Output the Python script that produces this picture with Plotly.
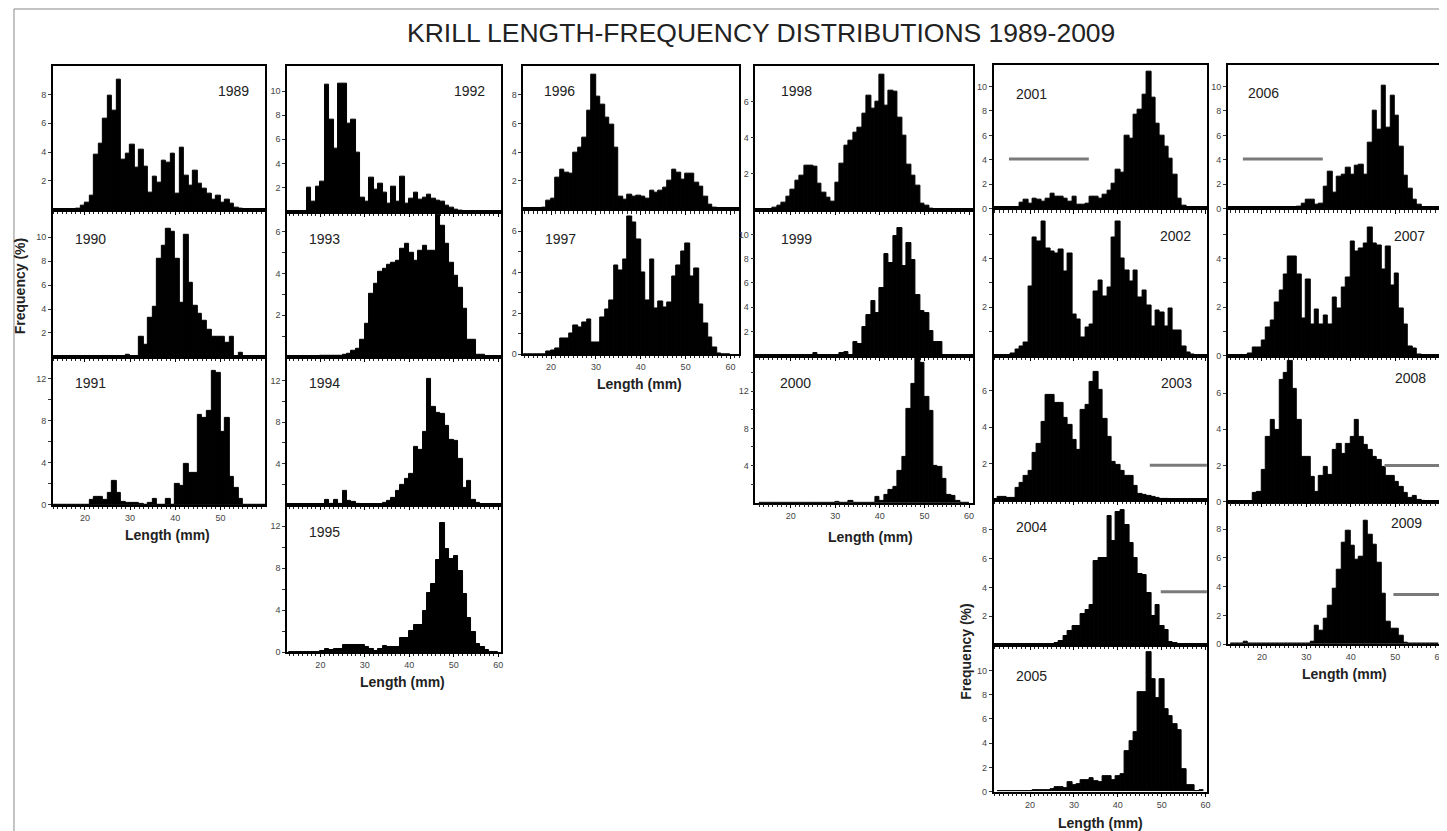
import plotly.graph_objects as go

W, H = 1447, 831

# ---------------- data (frequency %, 1-mm length bins 13..59 mm) ----------------
LENGTH_MM = list(range(13, 60))

freq_1989 = [0, 0, 0, 0, 0, 0.1, 0.3, 0.5, 1.0, 3.8, 4.6, 6.3, 7.9, 6.9, 9.0, 3.5, 3.9,
             4.5, 2.9, 4.2, 3.0, 1.2, 2.3, 1.9, 3.4, 3.3, 3.9, 1.1, 4.3, 2.4, 1.7, 2.7,
             1.8, 1.5, 1.1, 0.7, 1.0, 0.5, 0.7, 0.4, 0.15, 0.05, 0, 0, 0, 0, 0]
freq_1990 = [0, 0, 0, 0, 0, 0, 0, 0, 0, 0, 0, 0, 0, 0, 0, 0, 0.2,
             0, 0, 1.7, 1.0, 3.3, 4.2, 8.2, 9.3, 10.7, 10.5, 8.2, 4.5, 10.2, 6.2, 4.3,
             3.6, 3.0, 2.3, 1.7, 1.7, 1.7, 1.2, 1.7, 0, 0.35, 0, 0, 0, 0, 0]
freq_1991 = [0, 0, 0, 0, 0, 0, 0, 0, 0.5, 0.8, 0.8, 0.5, 1.2, 2.3, 1.2, 0.3, 0.2,
             0.2, 0.2, 0.1, 0, 0.2, 0.6, 0, 0, 0.6, 0, 2.0, 1.8, 3.9, 3.1, 3.1,
             8.6, 8.3, 9.0, 12.8, 12.6, 7.0, 8.3, 2.7, 1.6, 0.6, 0, 0, 0, 0, 0]
freq_1992 = [0, 0, 0, 0, 2.0, 0.8, 2.1, 2.5, 10.5, 7.6, 5.2, 10.6, 10.6, 7.3, 7.6, 4.9, 1.2,
             0.8, 2.8, 1.8, 2.3, 1.6, 0.7, 2.1, 0.8, 2.9, 0.7, 1.1, 1.6, 1.0, 1.2, 1.4,
             1.1, 0.9, 0.8, 0.5, 0.3, 0.15, 0.1, 0.05, 0, 0, 0, 0, 0, 0, 0]
freq_1993 = [0, 0, 0, 0, 0, 0, 0, 0.05, 0.05, 0.05, 0.05, 0.05, 0.1, 0.15, 0.3, 0.4, 0.8,
             1.6, 3.0, 3.5, 4.1, 4.2, 4.4, 4.5, 4.6, 5.2, 5.4, 5.0, 4.6, 5.1, 5.3, 5.1,
             5.1, 6.8, 6.3, 5.4, 4.5, 3.9, 3.3, 2.3, 0.8, 0.8, 0.1, 0.1, 0, 0, 0]
freq_1994 = [0, 0, 0, 0, 0, 0, 0, 0, 0.5, 0.1, 0.5, 0.1, 1.4, 0.4, 0.3, 0.15, 0.05,
             0.05, 0.05, 0.05, 0.05, 0.2, 0.4, 0.7, 1.4, 1.9, 2.5, 3.0, 5.6, 5.3, 7.1, 12.2,
             9.5, 8.9, 8.8, 7.6, 6.3, 6.2, 4.5, 1.7, 2.3, 0.5, 0.2, 0.05, 0, 0, 0]
freq_1995 = [0, 0, 0, 0, 0, 0, 0, 0.15, 0.3, 0.2, 0.3, 0.3, 0.7, 0.7, 0.7, 0.7, 0.7,
             0.5, 0.3, 0.15, 0.3, 0.6, 0.5, 0.45, 0.45, 1.3, 1.3, 2.0, 2.6, 2.6, 3.9, 5.6,
             6.5, 8.8, 12.3, 9.8, 8.9, 9.1, 7.7, 5.5, 3.2, 1.9, 0.8, 0.5, 0.2, 0, 0]
freq_1996 = [0, 0, 0, 0, 0, 0.1, 0.65, 0.75, 2.2, 2.8, 2.6, 2.5, 4.0, 4.3, 5.0, 6.9, 9.4,
             7.9, 7.3, 6.4, 5.9, 4.3, 0.9, 0.7, 1.05, 0.9, 1.0, 0.9, 0.75, 1.35, 1.2, 1.35,
             1.5, 2.0, 2.8, 2.6, 2.1, 2.5, 2.5, 1.9, 1.6, 0.9, 0.35, 0.15, 0.05, 0, 0]
freq_1997 = [0, 0, 0, 0, 0, 0, 0.15, 0.2, 0.3, 0.75, 0.75, 1.0, 1.4, 1.3, 1.55, 1.7, 0.55,
             0.55, 1.8, 2.2, 2.6, 4.3, 4.1, 4.6, 6.7, 6.4, 5.6, 4.0, 2.6, 4.6, 2.25, 2.55,
             2.3, 2.5, 3.8, 4.3, 5.0, 5.4, 3.8, 4.2, 2.4, 1.5, 0.8, 0.35, 0.05, 0, 0]
freq_1998 = [0, 0, 0.05, 0.15, 0.25, 0.4, 0.75, 1.15, 1.65, 1.9, 2.45, 2.45, 2.4, 1.45, 0.95, 0.7, 0.45,
             1.5, 2.55, 3.55, 3.85, 4.25, 4.55, 5.3, 6.3, 5.6, 6.0, 7.45, 5.75, 6.6, 6.55, 5.1,
             4.1, 2.5, 1.9, 1.35, 0.35, 0.25, 0.1, 0, 0, 0, 0, 0, 0, 0, 0]
freq_1999 = [0, 0, 0, 0, 0, 0, 0, 0, 0, 0, 0, 0, 0.2, 0, 0, 0, 0,
             0, 0.2, 0.3, 0.1, 1.15, 1.0, 2.4, 3.35, 4.5, 3.55, 5.6, 8.4, 7.6, 9.9, 10.5,
             7.4, 9.3, 7.9, 5.0, 3.7, 3.5, 2.05, 1.1, 1.1, 0, 0, 0, 0, 0, 0]
freq_2000 = [0, 0, 0, 0, 0, 0, 0, 0, 0, 0, 0, 0, 0, 0, 0, 0, 0,
             0.1, 0, 0, 0.15, 0, 0, 0, 0, 0, 0.65, 0.2, 0.8, 1.35, 1.7, 3.4,
             4.9, 10.1, 12.8, 15.7, 15.1, 11.4, 9.9, 4.0, 3.9, 2.6, 0.8, 0.7, 0.2, 0, 0]
freq_2001 = [0, 0, 0, 0, 0.1, 0.5, 0.7, 0.4, 0.8, 0.7, 0.55, 0.8, 1.2, 0.95, 0.95, 0.8, 0.6,
             0.95, 0.35, 0.35, 0.4, 0.95, 0.95, 0.8, 1.1, 1.5, 2.0, 3.2, 2.9, 6.0, 5.7, 7.7,
             8.1, 9.3, 11.2, 9.1, 7.0, 6.0, 5.1, 4.05, 2.75, 0.8, 0.2, 0, 0, 0, 0]
freq_2002 = [0, 0, 0, 0.1, 0.25, 0.4, 0.55, 2.85, 4.85, 4.7, 5.5, 4.4, 4.3, 4.2, 4.35, 3.45, 4.2,
             1.7, 1.5, 0.75, 1.15, 1.3, 2.65, 3.1, 2.45, 2.8, 4.85, 5.5, 4.0, 3.5, 3.05, 3.5,
             2.4, 2.7, 2.05, 1.2, 1.85, 1.8, 1.2, 1.95, 1.05, 1.05, 0.4, 0.15, 0.05, 0, 0]
freq_2003 = [0.15, 0.15, 0.1, 0.1, 0.65, 0.95, 1.3, 1.6, 2.6, 3.1, 4.3, 5.75, 5.75, 5.3, 5.3, 4.5, 4.1,
             3.3, 2.75, 4.95, 5.2, 6.5, 7.0, 6.05, 4.45, 3.45, 2.1, 1.95, 1.6, 1.3, 1.3, 0.75,
             0.35, 0.3, 0.2, 0.15, 0.1, 0.05, 0.05, 0, 0, 0, 0, 0, 0, 0, 0]
freq_2004 = [0, 0, 0, 0, 0, 0, 0, 0, 0, 0, 0, 0, 0.05, 0.15, 0.3, 0.6, 1.0,
             1.35, 1.35, 2.15, 2.45, 2.8, 5.8, 6.05, 6.0, 8.95, 7.2, 9.2, 9.35, 8.3, 7.1, 6.0,
             4.9, 4.85, 3.6, 2.0, 2.75, 1.35, 1.05, 0.25, 0.15, 0.05, 0, 0, 0, 0, 0]
freq_2005 = [0.05, 0.05, 0.05, 0.05, 0.05, 0.05, 0.05, 0.05, 0.1, 0.1, 0.1, 0.15, 0.2, 0.35, 0.4, 0.25, 0.75,
             0.55, 0.6, 0.95, 0.95, 1.1, 0.9, 0.75, 1.25, 1.25, 0.95, 1.3, 1.4, 3.35, 4.15, 4.95,
             8.2, 8.2, 11.5, 9.3, 7.7, 9.3, 6.85, 6.25, 5.55, 5.05, 1.85, 0.55, 0.5, 0.05, 0.15]
freq_2006 = [0, 0, 0, 0, 0, 0, 0, 0, 0, 0, 0, 0.05, 0.05, 0.1, 0.1, 0.15, 0.4,
             0.7, 0.75, 0.35, 0.4, 1.8, 3.05, 1.3, 2.6, 2.75, 3.35, 2.75, 3.5, 3.6, 2.75, 5.4,
             8.0, 6.45, 10.1, 6.6, 9.25, 7.65, 5.05, 2.7, 1.6, 0.75, 0.3, 0.1, 0.05, 0, 0]
freq_2007 = [0, 0, 0, 0, 0.1, 0.35, 0.35, 0.65, 1.15, 1.45, 2.2, 2.7, 3.35, 4.1, 4.1, 3.35, 1.55,
             3.15, 1.3, 1.9, 1.3, 1.65, 1.3, 2.4, 1.95, 2.8, 3.2, 4.7, 4.3, 4.4, 4.6, 5.25,
             4.6, 4.55, 3.55, 4.5, 2.9, 3.4, 1.95, 1.3, 0.4, 0.3, 0.05, 0, 0, 0, 0]
freq_2008 = [0, 0, 0, 0, 0, 0.5, 0.55, 1.75, 3.6, 4.5, 3.95, 6.75, 7.1, 7.75, 6.25, 4.5, 2.5,
             2.5, 1.35, 0.55, 1.45, 1.9, 1.5, 2.85, 3.2, 2.65, 3.2, 3.6, 4.5, 3.6, 3.15, 2.85,
             2.5, 2.3, 1.9, 1.4, 1.4, 1.1, 0.8, 0.5, 0.2, 0.3, 0.1, 0.05, 0, 0, 0]
freq_2009 = [0, 0, 0.05, 0.15, 0.05, 0.05, 0.05, 0.05, 0.05, 0.05, 0.05, 0.05, 0.05, 0, 0, 0.05, 0.05,
             0.05, 0.15, 1.3, 0.9, 1.8, 2.7, 3.85, 5.2, 7.05, 7.85, 6.85, 5.9, 6.1, 8.55, 7.6,
             6.9, 5.65, 3.5, 1.55, 1.05, 1.05, 0.6, 0.1, 0, 0, 0, 0, 0, 0, 0]

FREQ = {1989: freq_1989, 1990: freq_1990, 1991: freq_1991, 1992: freq_1992, 1993: freq_1993,
        1994: freq_1994, 1995: freq_1995, 1996: freq_1996, 1997: freq_1997, 1998: freq_1998,
        1999: freq_1999, 2000: freq_2000, 2001: freq_2001, 2002: freq_2002, 2003: freq_2003,
        2004: freq_2004, 2005: freq_2005, 2006: freq_2006, 2007: freq_2007, 2008: freq_2008,
        2009: freq_2009}

# grey reference bars drawn in some panels
REF_YEAR = [2001, 2003, 2004, 2006, 2008, 2009]
REF_X0 = [15.2, 47.3, 49.8, 15.7, 47.6, 49.6]
REF_X1 = [33.4, 60.5, 60.5, 33.7, 60.3, 60.3]
REF_Y = [4.05, 1.9, 3.7, 4.05, 2.0, 3.45]

TITLE = "KRILL LENGTH-FREQUENCY DISTRIBUTIONS 1989-2009"
X_TITLE = "Length (mm)"
Y_TITLE = "Frequency (%)"


def lab(vals, shown):
    return [str(v) if v in shown else "" for v in vals]


# y axis: (max, tick values, labelled ticks)
Y_AXES = {
    1989: (10.0, [2, 4, 6, 8], [2, 4, 6, 8]),
    1990: (12.3, [2, 4, 6, 8, 10], [2, 4, 6, 8, 10]),
    1991: (14.1, [0, 2, 4, 6, 8, 10, 12], [0, 4, 8, 12]),
    1992: (12.1, [2, 4, 6, 8, 10], [2, 4, 6, 8, 10]),
    1993: (6.95, [1, 2, 3, 4, 5, 6], [2, 4, 6]),
    1994: (14.3, [2, 4, 6, 8, 10, 12], [4, 8, 12]),
    1995: (14.0, [0, 2, 4, 6, 8, 10, 12], [0, 4, 8, 12]),
    1996: (10.05, [2, 4, 6, 8], [2, 4, 6, 8]),
    1997: (7.05, [0, 1, 2, 3, 4, 5, 6], [0, 2, 4, 6]),
    1998: (7.97, [2, 4, 6], [2, 4, 6]),
    1999: (12.0, [2, 4, 6, 8, 10], [2, 4, 6, 8, 10]),
    2000: (15.8, [2, 4, 6, 8, 10, 12, 14], [4, 8, 12]),
    2001: (11.8, [0, 2, 4, 6, 8, 10], [0, 2, 4, 6, 8, 10]),
    2002: (6.05, [1, 2, 3, 4, 5], [2, 4]),
    2003: (7.9, [2, 4, 6], [2, 4, 6]),
    2004: (10.05, [2, 4, 6, 8], [2, 4, 6, 8]),
    2005: (12.1, [0, 2, 4, 6, 8, 10], [0, 2, 4, 6, 8, 10]),
    2006: (11.8, [0, 2, 4, 6, 8, 10], [0, 2, 4, 6, 8, 10]),
    2007: (6.05, [0, 1, 2, 3, 4, 5], [0, 2, 4]),
    2008: (8.05, [0, 2, 4, 6], [0, 2, 4, 6]),
    2009: (9.9, [0, 2, 4, 6, 8], [0, 2, 4, 6, 8]),
}

# ---------------- layout (pixel geometry) ----------------
COLUMNS = [
    dict(px=(45, 258), xr=(12.9, 59.9), off=0.0, xlab=(160, 530),
         rows=[(1989, 58, 203), (1990, 203, 351), (1991, 351, 500)]),
    dict(px=(280, 495), xr=(12.5, 60.7), off=0.0, xlab=(396, 678),
         rows=[(1992, 58, 205), (1993, 205, 351), (1994, 351, 500), (1995, 500, 648)]),
    dict(px=(517, 734), xr=(13.8, 62.0), off=0.0, xlab=(634, 378),
         rows=[(1996, 58, 202.7), (1997, 202.7, 348.3)]),
    dict(px=(750, 968), xr=(12.1, 60.8), off=0.0, xlab=(865, 532),
         rows=[(1998, 58, 203.3), (1999, 203.3, 350), (2000, 350, 497.7)]),
    dict(px=(989, 1203), xr=(11.7, 60.3), off=-0.4, xlab=(1096, 820),
         rows=[(2001, 57, 201.7), (2002, 201.7, 350), (2003, 350, 495), (2004, 495, 641),
               (2005, 641, 788.3)]),
    dict(px=(1224, 1437), xr=(12.3, 60.1), off=-0.1, xlab=(1341, 670),
         rows=[(2006, 57, 201.7), (2007, 201.7, 350), (2008, 350, 496.7), (2009, 496.7, 640)]),
]

YEAR_POS = {1989: (226, 83), 1990: (83, 232), 1991: (83, 377), 1992: (463, 84), 1993: (318, 232),
            1994: (318, 377), 1995: (318, 527), 1996: (553, 84), 1997: (554, 232), 1998: (791, 83),
            1999: (791, 232), 2000: (790, 377), 2001: (1027, 87), 2002: (1172, 229), 2003: (1173, 377),
            2004: (1027, 522), 2005: (1027, 672), 2006: (1260, 86), 2007: (1406, 229), 2008: (1407, 372),
            2009: (1403, 518)}

Y_TITLE_POS = [(12, 280), (961, 648)]

FONT = "Liberation Sans, Arial, Helvetica, sans-serif"


def fx(p):
    return p / W


def fy(p):
    return 1 - p / H


fig = go.Figure()
layout = {}
annotations = []
shapes = []
n = 0
for col in COLUMNS:
    nrows = len(col["rows"])
    for r, (year, top, bot) in enumerate(col["rows"]):
        n += 1
        xa, ya = f"x{n}", f"y{n}"
        fig.add_trace(go.Bar(
            x=LENGTH_MM, y=FREQ[year], width=1.0, offset=col["off"],
            marker=dict(color="black", line=dict(color="black", width=1.0)),
            xaxis=xa, yaxis=ya, showlegend=False, hoverinfo="skip"))
        for yr, x0, x1, yv in zip(REF_YEAR, REF_X0, REF_X1, REF_Y):
            if yr == year:
                fig.add_trace(go.Scatter(
                    x=[x0, x1], y=[yv, yv], mode="lines",
                    line=dict(color="#7a7a7a", width=3),
                    xaxis=xa, yaxis=ya, showlegend=False, hoverinfo="skip"))
        bottom_panel = (r == nrows - 1)
        layout[f"xaxis{n}"] = dict(
            domain=[fx(col["px"][0]), fx(col["px"][1])], range=list(col["xr"]),
            anchor=ya, showline=True, mirror=True, linecolor="black", linewidth=1.5,
            showgrid=False, zeroline=False, tickmode="linear", tick0=0, dtick=10,
            ticks="outside", ticklen=3.5, tickcolor="black", tickwidth=1,
            minor=dict(dtick=1, tick0=0, ticks="outside", ticklen=2.5, tickcolor="#222", tickwidth=1),
            showticklabels=bottom_panel,
            tickfont=dict(family=FONT, size=9, color="#444"), fixedrange=True)
        ymax, yvals, yshown = Y_AXES[year]
        layout[f"yaxis{n}"] = dict(
            domain=[fy(bot), fy(top)], range=[0, ymax], anchor=xa,
            showline=True, mirror=True, linecolor="black", linewidth=1.5,
            showgrid=False, zeroline=False, tickmode="array", tickvals=yvals,
            ticktext=lab(yvals, yshown), ticks="outside", ticklen=3, tickcolor="#333",
            tickfont=dict(family=FONT, size=9, color="#444"), fixedrange=True)
        px_, py_ = YEAR_POS[year]
        annotations.append(dict(x=fx(px_), y=fy(py_), xref="paper", yref="paper", text=str(year),
                                showarrow=False, xanchor="center", yanchor="middle",
                                font=dict(family=FONT, size=14, color="#222")))
    lx, ly = col["xlab"]
    annotations.append(dict(x=fx(lx), y=fy(ly), xref="paper", yref="paper", text=f"<b>{X_TITLE}</b>",
                            showarrow=False, xanchor="center", yanchor="middle",
                            font=dict(family=FONT, size=14, color="#222")))

for (tx, ty) in Y_TITLE_POS:
    annotations.append(dict(x=fx(tx), y=fy(ty), xref="paper", yref="paper", text=f"<b>{Y_TITLE}</b>",
                            textangle=-90, showarrow=False, xanchor="center", yanchor="middle",
                            font=dict(family=FONT, size=14, color="#222")))

annotations.append(dict(x=fx(755.5), y=fy(25), xref="paper", yref="paper", text=TITLE,
                        showarrow=False, xanchor="center", yanchor="middle",
                        font=dict(family=FONT, size=26.5, color="#222")))

shapes.append(dict(type="rect", xref="paper", yref="paper", x0=fx(6), x1=fx(1441), y0=fy(829), y1=fy(1),
                   line=dict(color="#888", width=1)))

fig.update_layout(**layout)
fig.update_layout(width=W, height=H, margin=dict(l=0, r=0, t=0, b=0),
                  paper_bgcolor="white", plot_bgcolor="white", bargap=0,
                  annotations=annotations, shapes=shapes, showlegend=False)

fig.write_html("out.html")
